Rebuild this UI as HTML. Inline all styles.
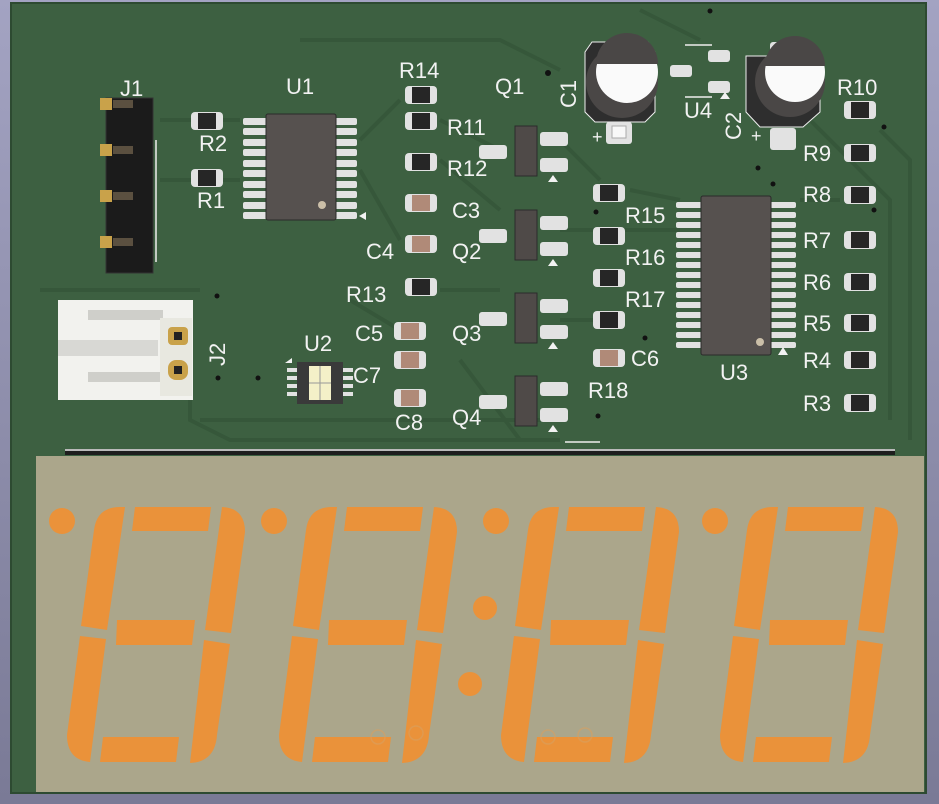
<!DOCTYPE html>
<html><head><meta charset="utf-8"><style>
html,body{margin:0;padding:0;width:939px;height:804px;overflow:hidden;background:linear-gradient(#a0a0c0,#7c7c98);}
svg{display:block}
text{font-family:"Liberation Sans",sans-serif;fill:#f2f2f2;font-size:22px}
</style></head><body>
<svg width="939" height="804" viewBox="0 0 939 804">
<defs>
<linearGradient id="bg" x1="0" y1="0" x2="0" y2="1"><stop offset="0" stop-color="#a3a3c2"/><stop offset="1" stop-color="#7a7a96"/></linearGradient>
<g id="res"><rect x="-16" y="-9" width="32" height="18" rx="4" fill="#e2e2e2"/><rect x="-9" y="-8" width="18" height="16" fill="#262626"/></g>
<g id="cap"><rect x="-16" y="-9" width="32" height="18" rx="4" fill="#e2e2e2"/><rect x="-9" y="-8" width="18" height="16" fill="#b08a78"/></g>
<g id="q"><rect x="-24" y="-7" width="28" height="14" rx="3" fill="#e2e2e2" transform="translate(-12,0)"/><rect x="25" y="-20" width="28" height="14" rx="3" fill="#e2e2e2"/><rect x="25" y="6" width="28" height="14" rx="3" fill="#e2e2e2"/><rect x="0" y="-26" width="22" height="50" fill="#4f4a48" stroke="#2b2b2b"/><path d="M33 30 l5 -7 l5 7z" fill="#f2f2f2"/></g>
<g id="dig" fill="#ea923a">
<path d="M125 507 L107 630 L81 626 L94 530 Q97 507 120 507 Z"/>
<path d="M135 507 L211 507 L208 531 L132 531 Z"/>
<path d="M222 507 Q245 508 245 532 L231 633 L205 630 Z"/>
<path d="M117 620 L195 620 L192 645 L116 645 Z"/>
<path d="M80 636 L106 639 L90 762 Q67 760 67 735 Z"/>
<path d="M103 737 L179 737 L176 762 L100 762 Z"/>
<path d="M204 640 L230 644 L217 735 Q215 762 190 763 Z"/>
<circle cx="62" cy="521" r="13"/>
</g>
</defs>
<rect width="939" height="804" fill="url(#bg)"/>
<rect x="11" y="3" width="915" height="790" fill="#3d6041"/>
<rect x="11" y="3" width="915" height="790" fill="none" stroke="#2d4a31" stroke-width="2"/>
<g fill="none" stroke="#36573a" stroke-width="4">
<path d="M160 120 L240 120 M160 180 L240 180 M360 140 L400 100 M360 170 L400 240 M440 120 L500 150 M440 160 L500 210 M440 290 L500 290 M560 140 L600 180 M560 230 L680 230 M560 320 L600 320 M630 190 L680 200 M800 110 L890 200 L890 420 M800 200 L840 200 M640 10 L700 40 M300 40 L500 40 L560 70 M200 420 L560 420 M40 290 L200 290 M190 300 L190 420 L230 440 L560 440 M880 130 L910 160 L910 440 M350 300 L400 330 M460 360 L520 440"/>
</g>
<rect x="36" y="456" width="888" height="336" fill="#aba68b"/>
<rect x="65" y="449" width="830" height="6" fill="#1e1e1e"/>
<line x1="65" y1="450" x2="895" y2="450" stroke="#eee" stroke-width="1.5"/>
<line x1="565" y1="442" x2="600" y2="442" stroke="#eee" stroke-width="1.5"/>
<use href="#dig"/>
<use href="#dig" transform="translate(212,0)"/>
<use href="#dig" transform="translate(434,0)"/>
<use href="#dig" transform="translate(653,0)"/>
<circle cx="485" cy="608" r="12" fill="#ea923a"/>
<circle cx="470" cy="684" r="12" fill="#ea923a"/>
<g fill="none" stroke="#d8a060" stroke-width="1.5" opacity=".6"><circle cx="378" cy="737" r="7"/><circle cx="416" cy="733" r="7"/><circle cx="548" cy="737" r="7"/><circle cx="585" cy="735" r="7"/></g>

<text x="120" y="96">J1</text>
<rect x="106" y="98" width="47" height="175" fill="#1b1b1b" stroke="#333"/>
<line x1="156" y1="140" x2="156" y2="262" stroke="#eee" stroke-width="1.5"/>
<g fill="#c9a24a"><rect x="100" y="98" width="12" height="12"/><rect x="100" y="144" width="12" height="12"/><rect x="100" y="190" width="12" height="12"/><rect x="100" y="236" width="12" height="12"/></g>
<g fill="#5b5040"><rect x="113" y="100" width="20" height="8"/><rect x="113" y="146" width="20" height="8"/><rect x="113" y="192" width="20" height="8"/><rect x="113" y="238" width="20" height="8"/></g>
<use href="#res" x="207" y="121"/><text x="199" y="151">R2</text>
<use href="#res" x="207" y="178"/><text x="197" y="208">R1</text>
<text x="286" y="94">U1</text>
<g fill="#e2e2e2">
<rect x="243" y="118" width="24" height="7" rx="2"/><rect x="243" y="128" width="24" height="7" rx="2"/><rect x="243" y="139" width="24" height="7" rx="2"/><rect x="243" y="149" width="24" height="7" rx="2"/><rect x="243" y="160" width="24" height="7" rx="2"/><rect x="243" y="170" width="24" height="7" rx="2"/><rect x="243" y="181" width="24" height="7" rx="2"/><rect x="243" y="191" width="24" height="7" rx="2"/><rect x="243" y="202" width="24" height="7" rx="2"/><rect x="243" y="212" width="24" height="7" rx="2"/>
<rect x="333" y="118" width="24" height="7" rx="2"/><rect x="333" y="128" width="24" height="7" rx="2"/><rect x="333" y="139" width="24" height="7" rx="2"/><rect x="333" y="149" width="24" height="7" rx="2"/><rect x="333" y="160" width="24" height="7" rx="2"/><rect x="333" y="170" width="24" height="7" rx="2"/><rect x="333" y="181" width="24" height="7" rx="2"/><rect x="333" y="191" width="24" height="7" rx="2"/><rect x="333" y="202" width="24" height="7" rx="2"/><rect x="333" y="212" width="24" height="7" rx="2"/>
</g>
<rect x="266" y="114" width="70" height="106" rx="2" fill="#56514f" stroke="#2a2a2a"/>
<circle cx="322" cy="205" r="4" fill="#cbbfa8"/>
<path d="M366 212 l-7 4 l7 4z" fill="#f2f2f2"/>
<text x="399" y="78">R14</text><use href="#res" x="421" y="95"/>
<use href="#res" x="421" y="121"/><text x="447" y="135">R11</text>
<use href="#res" x="421" y="162"/><text x="447" y="176">R12</text>
<use href="#cap" x="421" y="203"/><text x="452" y="218">C3</text>
<use href="#cap" x="421" y="244"/><text x="366" y="259">C4</text>
<use href="#res" x="421" y="287"/><text x="346" y="302">R13</text>
<use href="#cap" x="410" y="331"/><text x="355" y="341">C5</text>
<use href="#cap" x="410" y="360"/><text x="353" y="383">C7</text>
<use href="#cap" x="410" y="398"/><text x="395" y="430">C8</text>
<text x="304" y="351">U2</text>
<path d="M285 363 l7 -5 v5z" fill="#f2f2f2"/>
<g fill="#e2e2e2"><rect x="287" y="368" width="10" height="4"/><rect x="287" y="376" width="10" height="4"/><rect x="287" y="384" width="10" height="4"/><rect x="287" y="392" width="10" height="4"/><rect x="343" y="368" width="10" height="4"/><rect x="343" y="376" width="10" height="4"/><rect x="343" y="384" width="10" height="4"/><rect x="343" y="392" width="10" height="4"/></g>
<rect x="297" y="362" width="46" height="42" fill="#3a3a3a"/>
<rect x="309" y="366" width="22" height="34" fill="#f4f0c8"/>
<line x1="320" y1="366" x2="320" y2="400" stroke="#999"/><line x1="309" y1="383" x2="331" y2="383" stroke="#999"/>
<text x="495" y="94">Q1</text>
<use href="#q" x="515" y="152"/>
<use href="#q" x="515" y="236"/><text x="452" y="259">Q2</text>
<use href="#q" x="515" y="319"/><text x="452" y="341">Q3</text>
<use href="#q" x="515" y="402"/><text x="452" y="425">Q4</text>
<use href="#res" x="609" y="193"/><text x="625" y="223">R15</text>
<use href="#res" x="609" y="236"/><text x="625" y="265">R16</text>
<use href="#res" x="609" y="278"/><text x="625" y="307">R17</text>
<use href="#res" x="609" y="320"/>
<use href="#cap" x="609" y="358"/><text x="631" y="366">C6</text>
<text x="588" y="398">R18</text>
<path d="M585 52 L592 42 L648 42 L655 52 L655 112 L645 122 L595 122 L585 112Z" fill="#2e2e2e" stroke="#eee" stroke-width="1"/>
<circle cx="622" cy="82" r="36" fill="#4a4746"/>
<circle cx="627" cy="72" r="31" fill="#fafafa"/>
<path d="M596 64 A31 31 0 0 1 658 64 Z" fill="#4a4746"/>
<rect x="606" y="122" width="26" height="22" rx="3" fill="#e2e2e2"/><rect x="612" y="126" width="14" height="12" fill="#f8f8f8" stroke="#aaa"/>
<text x="592" y="143" style="font-size:18px">+</text>
<text transform="translate(576,108) rotate(-90)">C1</text>
<circle cx="548" cy="73" r="3" fill="#111"/>
<line x1="685" y1="45" x2="712" y2="45" stroke="#eee" stroke-width="1.5"/>
<g fill="#e2e2e2"><rect x="708" y="50" width="22" height="12" rx="3"/><rect x="670" y="65" width="22" height="12" rx="3"/><rect x="708" y="81" width="22" height="12" rx="3"/></g>
<path d="M720 99 l5 -7 l5 7z" fill="#f2f2f2"/>
<line x1="685" y1="97" x2="712" y2="97" stroke="#eee" stroke-width="1.5"/>
<text x="684" y="118">U4</text>
<path d="M746 56 L746 112 L760 127 L803 127 L820 112 L820 56 Z" fill="#2e2e2e" stroke="#eee" stroke-width="1"/>
<rect x="770" y="42" width="26" height="14" rx="3" fill="#e2e2e2"/>
<circle cx="790" cy="82" r="35" fill="#4a4746"/>
<circle cx="795" cy="72" r="30" fill="#fafafa"/>
<path d="M765 66 A30 30 0 0 1 825 66 Z" fill="#4a4746"/>
<rect x="770" y="128" width="26" height="22" rx="3" fill="#e2e2e2"/>
<text x="751" y="142" style="font-size:18px">+</text>
<text transform="translate(741,140) rotate(-90)">C2</text>
<g fill="#e2e2e2">
<rect x="676" y="202" width="26" height="6" rx="2"/><rect x="676" y="212" width="26" height="6" rx="2"/><rect x="676" y="222" width="26" height="6" rx="2"/><rect x="676" y="232" width="26" height="6" rx="2"/><rect x="676" y="242" width="26" height="6" rx="2"/><rect x="676" y="252" width="26" height="6" rx="2"/><rect x="676" y="262" width="26" height="6" rx="2"/><rect x="676" y="272" width="26" height="6" rx="2"/><rect x="676" y="282" width="26" height="6" rx="2"/><rect x="676" y="292" width="26" height="6" rx="2"/><rect x="676" y="302" width="26" height="6" rx="2"/><rect x="676" y="312" width="26" height="6" rx="2"/><rect x="676" y="322" width="26" height="6" rx="2"/><rect x="676" y="332" width="26" height="6" rx="2"/><rect x="676" y="342" width="26" height="6" rx="2"/>
<rect x="770" y="202" width="26" height="6" rx="2"/><rect x="770" y="212" width="26" height="6" rx="2"/><rect x="770" y="222" width="26" height="6" rx="2"/><rect x="770" y="232" width="26" height="6" rx="2"/><rect x="770" y="242" width="26" height="6" rx="2"/><rect x="770" y="252" width="26" height="6" rx="2"/><rect x="770" y="262" width="26" height="6" rx="2"/><rect x="770" y="272" width="26" height="6" rx="2"/><rect x="770" y="282" width="26" height="6" rx="2"/><rect x="770" y="292" width="26" height="6" rx="2"/><rect x="770" y="302" width="26" height="6" rx="2"/><rect x="770" y="312" width="26" height="6" rx="2"/><rect x="770" y="322" width="26" height="6" rx="2"/><rect x="770" y="332" width="26" height="6" rx="2"/><rect x="770" y="342" width="26" height="6" rx="2"/>
</g>
<rect x="701" y="196" width="70" height="159" rx="2" fill="#56514f" stroke="#2a2a2a"/>
<circle cx="760" cy="342" r="4" fill="#cbbfa8"/>
<path d="M778 355 l5 -8 l5 8z" fill="#f2f2f2"/>
<text x="720" y="380">U3</text>
<text x="837" y="95">R10</text><use href="#res" x="860" y="110"/>
<text x="803" y="161">R9</text><use href="#res" x="860" y="153"/>
<text x="803" y="202">R8</text><use href="#res" x="860" y="195"/>
<text x="803" y="248">R7</text><use href="#res" x="860" y="240"/>
<text x="803" y="290">R6</text><use href="#res" x="860" y="282"/>
<text x="803" y="331">R5</text><use href="#res" x="860" y="323"/>
<text x="803" y="368">R4</text><use href="#res" x="860" y="360"/>
<text x="803" y="411">R3</text><use href="#res" x="860" y="403"/>
<rect x="58" y="300" width="135" height="100" fill="#f2f2ee"/>
<rect x="58" y="340" width="100" height="16" fill="#d8d8d4"/>
<rect x="88" y="310" width="75" height="10" fill="#cfcfca"/>
<rect x="88" y="372" width="75" height="10" fill="#cfcfca"/>
<rect x="160" y="318" width="32" height="78" fill="#e8e8e0"/>
<rect x="168" y="327" width="20" height="18" rx="4" fill="#c9a24a"/><rect x="168" y="360" width="20" height="20" rx="8" fill="#c9a24a"/>
<rect x="174" y="332" width="8" height="8" fill="#222"/><rect x="174" y="366" width="8" height="8" fill="#222"/>
<text transform="translate(225,366) rotate(-90)">J2</text>
<g fill="#111"><circle cx="217" cy="296" r="2.5"/><circle cx="258" cy="378" r="2.5"/><circle cx="218" cy="378" r="2.5"/><circle cx="598" cy="416" r="2.5"/><circle cx="645" cy="338" r="2.5"/><circle cx="596" cy="212" r="2.5"/><circle cx="884" cy="127" r="2.5"/><circle cx="874" cy="210" r="2.5"/><circle cx="758" cy="168" r="2.5"/><circle cx="773" cy="184" r="2.5"/><circle cx="710" cy="11" r="2.5"/></g>
</svg>
</body></html>
